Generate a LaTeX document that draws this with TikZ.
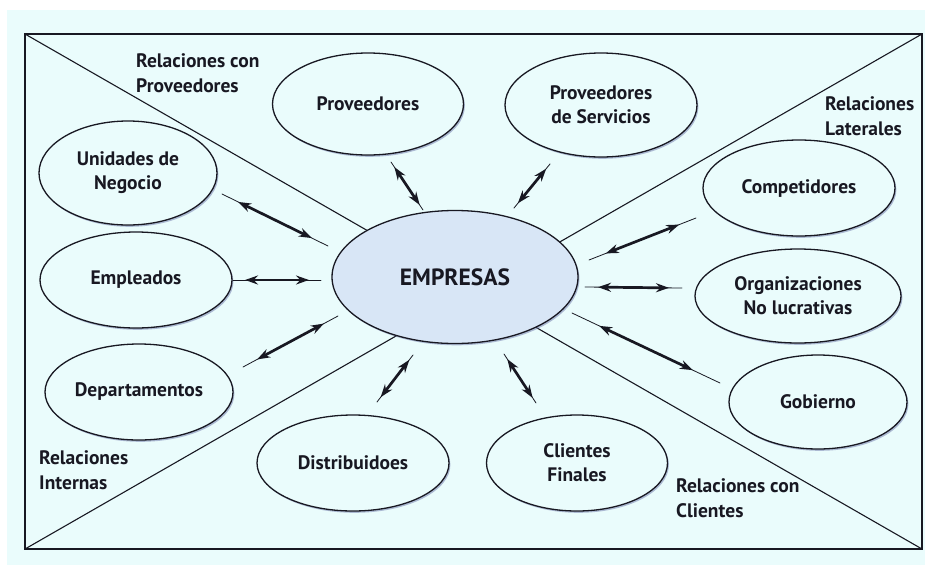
\documentclass[tikz,border=0pt]{standalone}
\usepackage{fontspec}
\setmainfont{PT Sans}
\usetikzlibrary{shapes.geometric,arrows.meta,shadows}
\definecolor{bgc}{RGB}{234,252,252}
\definecolor{empc}{RGB}{216,230,246}
\definecolor{shc}{RGB}{110,120,170}
\definecolor{inkc}{RGB}{24,24,34}
\begin{document}
\begin{tikzpicture}[x=1pt,y=-1pt,
  font=\bfseries\fontsize{19.5}{24}\selectfont, text=inkc,
  ell/.style={ellipse, draw=inkc, line width=1.3pt, fill=bgc, inner sep=0pt, align=center,
    drop shadow={shadow xshift=1.4pt, shadow yshift=-1.8pt, fill=shc, opacity=0.5}},
  lab/.style={align=left, anchor=base west, inner sep=0pt, font=\bfseries\fontsize{19.5}{25}\selectfont},
  tail/.style={line width=0.8pt, draw=inkc, line cap=round},
  dbl/.style={line width=2.7pt, draw=inkc, {Stealth[length=13pt,width=9pt]}-{Stealth[length=13pt,width=9pt]}, shorten <=#1, shorten >=#1},
  frm/.style={line width=1.1pt, draw=inkc}
]
\useasboundingbox (0,0) rectangle (925,565);
\fill[white] (0,0) rectangle (925,565);
\fill[bgc] (7,10) rectangle (925,565);

% frame and diagonals
\coordinate (tl) at (25,34);
\coordinate (tr) at (922,34);
\coordinate (bl) at (25,549);
\coordinate (br) at (922,549);
\draw[frm] (tl) -- (tr) -- (br) -- (bl) -- cycle;
\draw[frm] (tl) -- (br);
\draw[frm] (bl) -- (tr);

% region labels (anchor = baseline of last line)
\node[lab] (lp) at (136,92) {Relaciones con\\Proveedores};
\node[lab] (ll) at (825,135) {Relaciones\\Laterales};
\node[lab] (li) at (39,489) {Relaciones\\Internas};
\node[lab] (lc) at (676,517) {Relaciones con\\Clientes};

% ellipses
\node[ell, minimum width=246pt, minimum height=133pt, fill=empc, font=\bfseries\fontsize{23.5}{26}\selectfont] (emp) at (455,277) {EMPRESAS};
\node[ell, minimum width=191pt, minimum height=102pt] (prov) at (368,104) {Proveedores};
\node[ell, minimum width=192pt, minimum height=104pt] (serv) at (601,105) {Proveedores\\de Servicios};
\node[ell, minimum width=178pt, minimum height=104pt] (uni) at (128,173) {Unidades de\\Negocio};
\node[ell, minimum width=192pt, minimum height=96pt] (empl) at (136,280) {Empleados};
\node[ell, minimum width=188pt, minimum height=96pt] (dep) at (139,392) {Departamentos};
\node[ell, minimum width=192pt, minimum height=96pt] (comp) at (799,188) {Competidores};
\node[ell, minimum width=206pt, minimum height=94pt] (org) at (798,296) {Organizaciones\\No lucrativas};
\node[ell, minimum width=178pt, minimum height=94pt] (gob) at (818,402) {Gobierno};
\node[ell, minimum width=192pt, minimum height=96pt] (dis) at (353,463) {Distribuidoes};
\node[ell, minimum width=181pt, minimum height=96pt] (cli) at (577,463) {Clientes\\Finales};

% arrow end points
\coordinate (u1) at (222,194);  \coordinate (u2) at (328,246);
\coordinate (e1) at (233,280);  \coordinate (e2) at (321,280);
\coordinate (d1) at (243,367);  \coordinate (d2) at (338,316);
\coordinate (p1) at (391,162);  \coordinate (p2) at (423,210);
\coordinate (s1) at (550,164);  \coordinate (s2) at (514,208);
\coordinate (c1) at (589,260);  \coordinate (c2) at (696,218);
\coordinate (o1) at (585,287);  \coordinate (o2) at (682,288);
\coordinate (g1) at (572,313);  \coordinate (g2) at (720,383);
\coordinate (i1) at (413,355);  \coordinate (i2) at (377,402);
\coordinate (f1) at (504,354);  \coordinate (f2) at (536,403);

\foreach \a/\b/\s in {u1/u2/18pt, e1/e2/12pt, d1/d2/16pt, p1/p2/6pt, s1/s2/6pt,
                      c1/c2/18pt, o1/o2/13pt, g1/g2/30pt, i1/i2/6pt, f1/f2/6pt}{
  \draw[tail] (\a) -- (\b);
  \draw[dbl=\s] (\a) -- (\b);
}
\end{tikzpicture}
\end{document}
